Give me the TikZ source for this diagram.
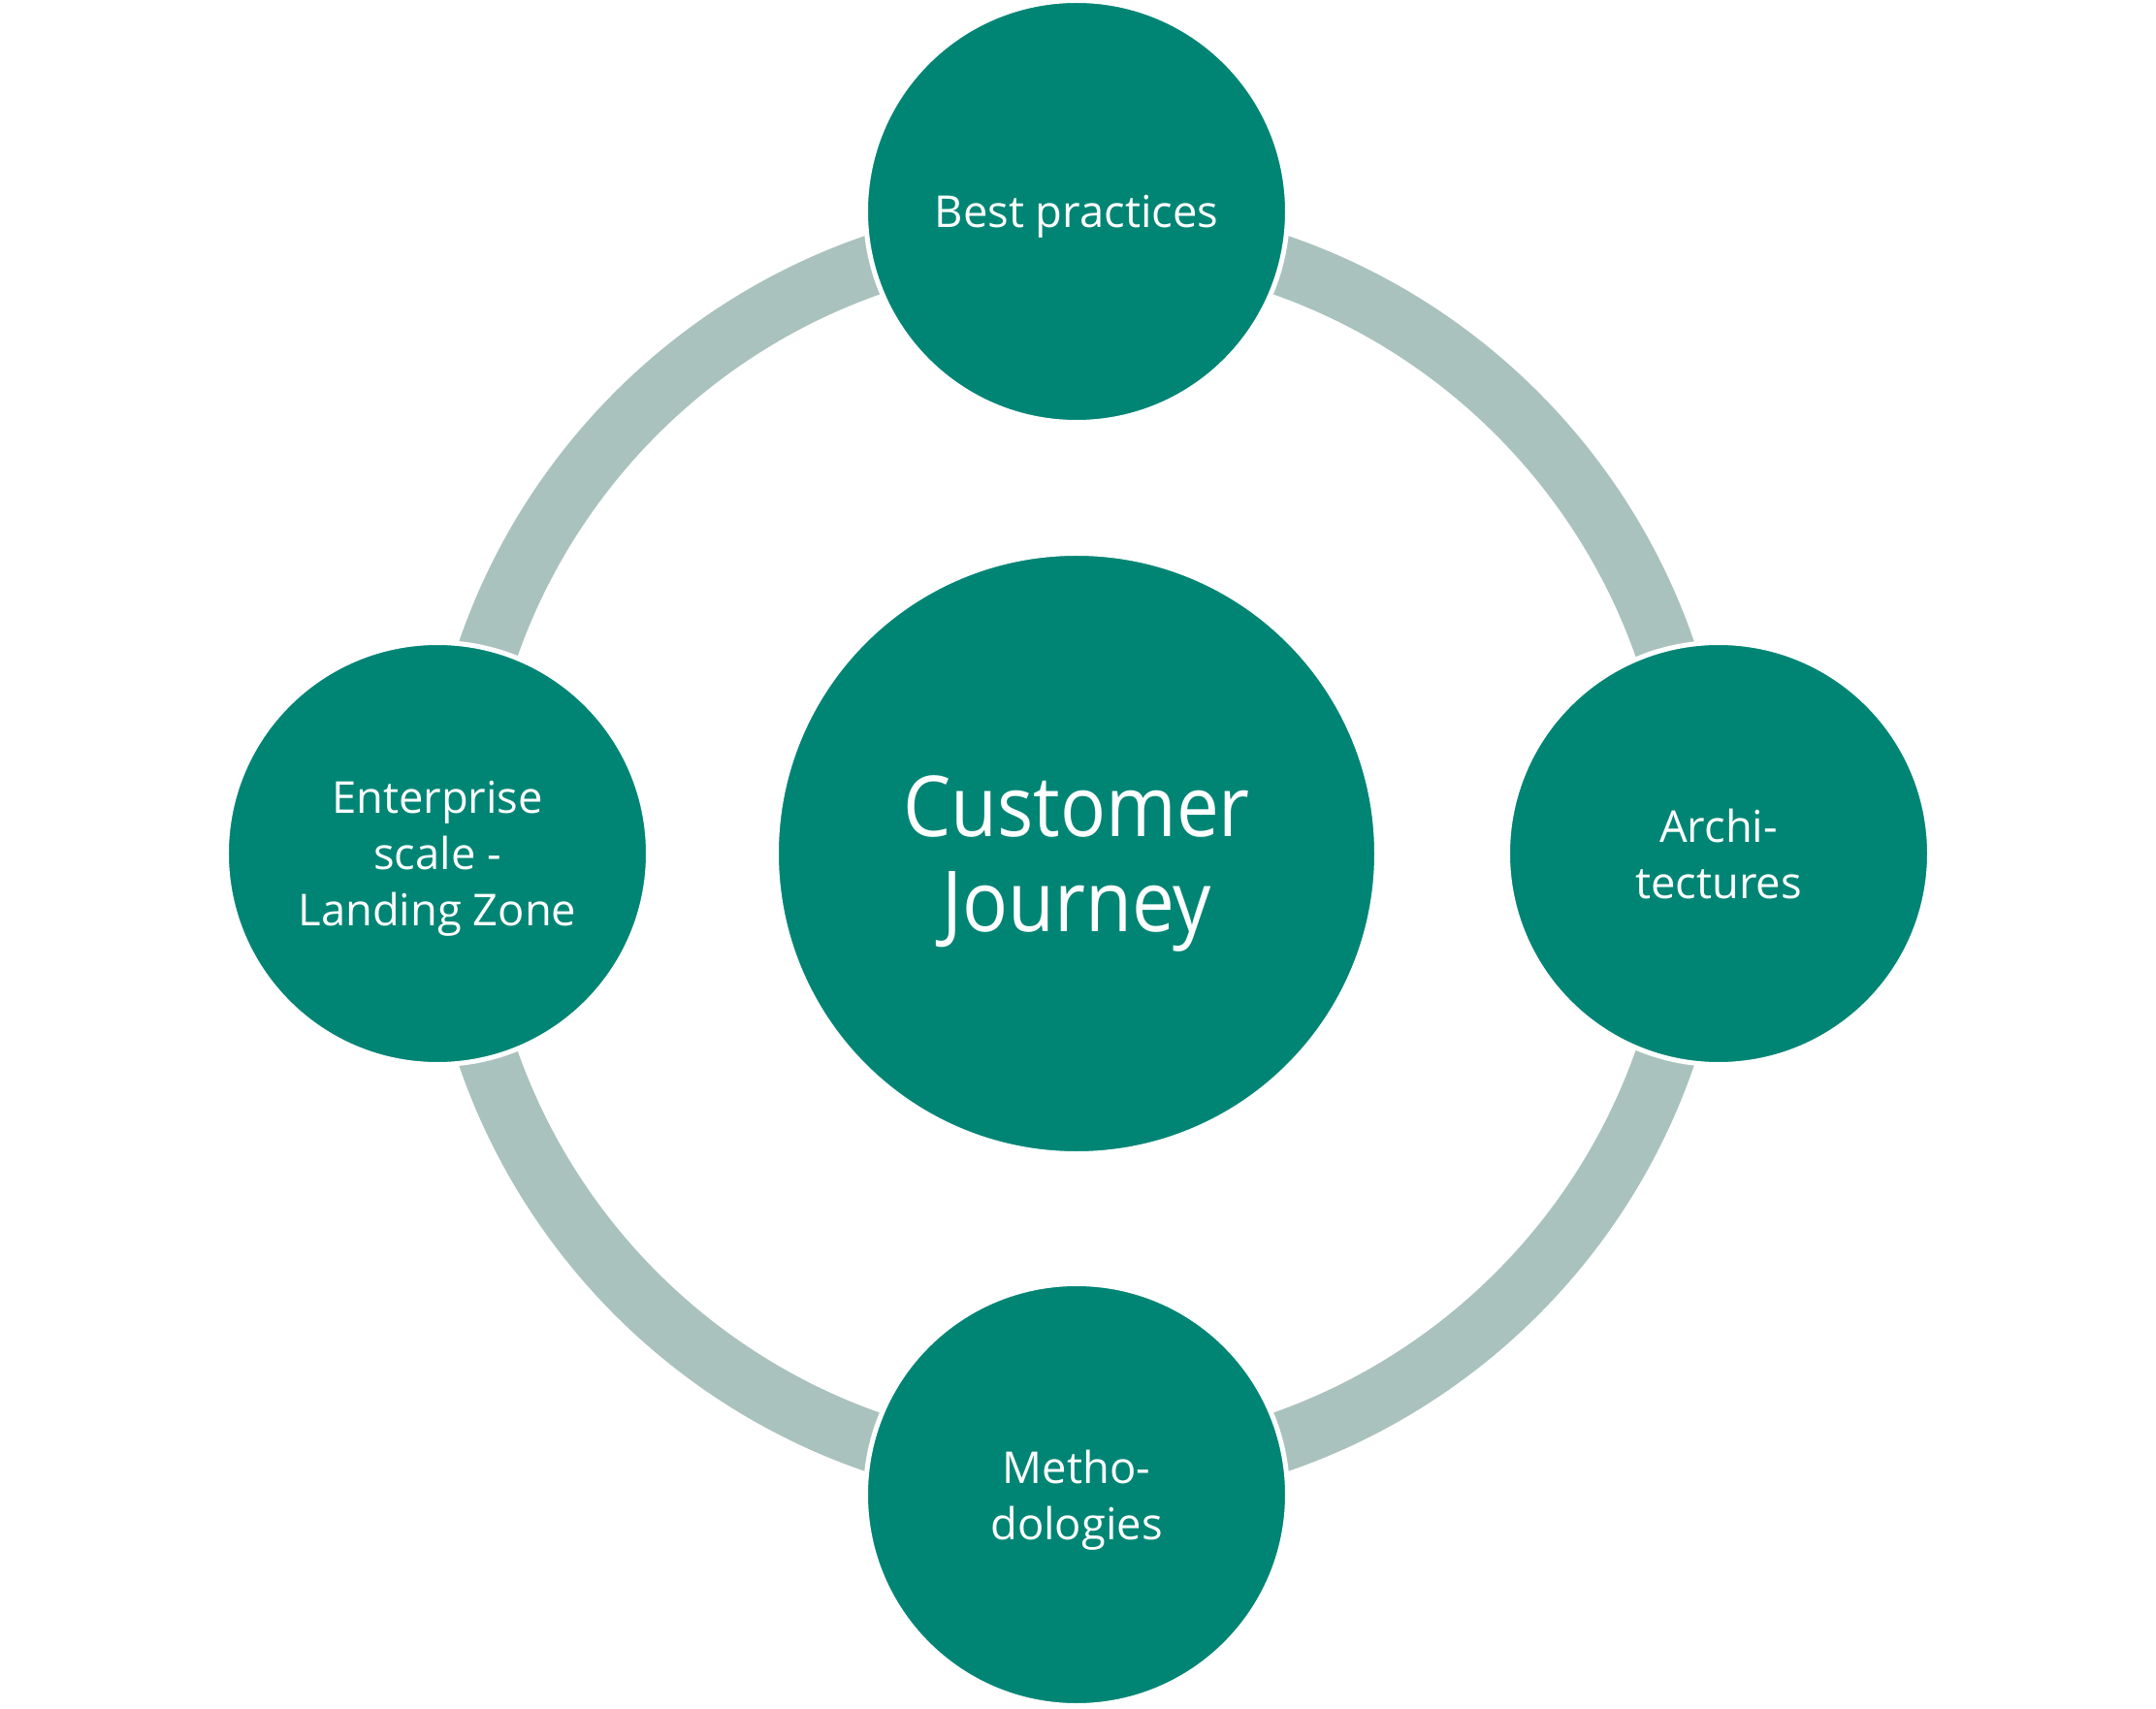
\documentclass[tikz,border=0pt]{standalone}
\usepackage{fontspec}
\setmainfont{Open Sans}
\newfontfamily\hubfont[FakeStretch=0.9]{Open Sans}
\definecolor{hubteal}{RGB}{0,133,117}
\definecolor{ringgray}{RGB}{170,194,189}
\begin{document}
\begin{tikzpicture}[
	  bubble/.style={circle,fill=hubteal,draw=white,line width=0.05cm,text=white,align=center,inner sep=0pt,text depth=0pt},
	  small/.style={bubble,minimum size=4.35cm,font=\fontsize{12.9}{16.4}\selectfont},
	  big/.style={bubble,minimum size=6.19cm,font=\hubfont\fontsize{24.7}{27.9}\selectfont}]
	  \useasboundingbox (-11.10,-8.81) rectangle (11.13,8.80);
	  \node[big] (hub) at (0,0) {Customer\\Journey};
	  \draw[ringgray,line width=0.62cm] (hub.center) circle (6.42);
	  \node[small] (best) at (0,6.62) {Best practices};
	  \node[small] (arch) at (6.62,0) {Archi-\\tectures};
	  \node[small] (meth) at (0,-6.61) {Metho-\\dologies};
	  \node[small] (lz) at (-6.59,0) {Enterprise\\scale -\\Landing Zone};
	\end{tikzpicture}
\end{document}
